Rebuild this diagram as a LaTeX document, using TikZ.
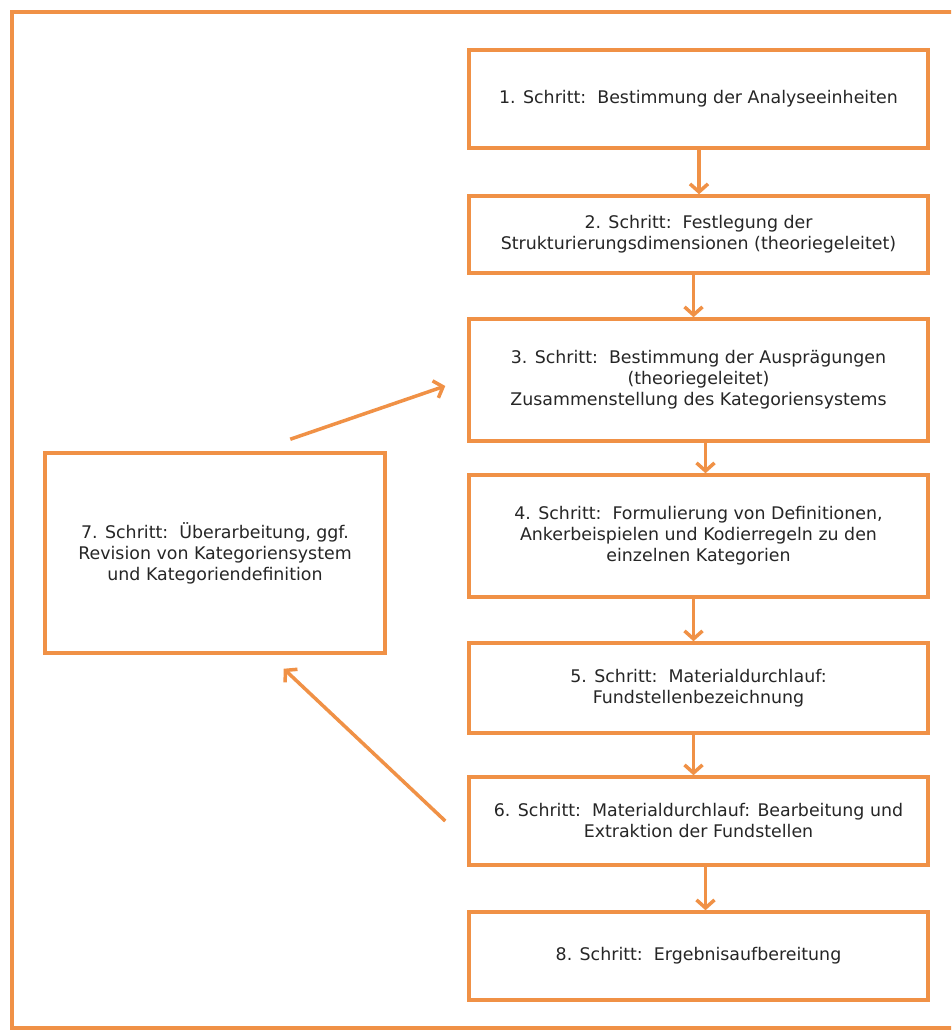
\documentclass[tikz,border=0pt]{standalone}
\usepackage{fontspec}
\setmainfont{DejaVu Sans}
\usetikzlibrary{arrows.meta,calc}
\definecolor{orng}{RGB}{240,145,70}
\begin{document}
\begin{tikzpicture}[x=1pt,y=-1pt,
  box/.style={draw=orng,line width=3.5pt,fill=white,rectangle,inner sep=0pt,
    align=center,font=\fontsize{17.4}{21}\selectfont,text=black!85},
  arr/.style={draw=orng,line width=3.5pt,-{Straight Barb[length=8pt,width=18pt]}}]
\useasboundingbox (0,0) rectangle (951,1030);
\clip (0,0) rectangle (951,1030);
\fill[white] (0,0) rectangle (951,1030);
\draw[orng,line width=3.5pt] (12,1028) rectangle (965,12);

\node[box,minimum width=459pt,minimum height=98pt] (b1) at (698.5,99) {1. Schritt:\ \ Bestimmung der Analyseeinheiten};
\node[box,minimum width=459pt,minimum height=77pt] (b2) at (698.5,234.5) {2. Schritt:\ \ Festlegung der\\Strukturierungsdimensionen (theoriegeleitet)};
\node[box,minimum width=459pt,minimum height=122pt] (b3) at (698.5,380) {3. Schritt:\ \ Bestimmung der Ausprägungen\\(theoriegeleitet)\\Zusammenstellung des Kategoriensystems};
\node[box,minimum width=459pt,minimum height=122pt] (b4) at (698.5,536) {4. Schritt:\ \ Formulierung von Definitionen,\\Ankerbeispielen und Kodierregeln zu den\\einzelnen Kategorien};
\node[box,minimum width=459pt,minimum height=90pt] (b5) at (698.5,688) {5. Schritt:\ \ Materialdurchlauf:\\Fundstellenbezeichnung};
\node[box,minimum width=459pt,minimum height=88pt] (b6) at (698.5,821) {6. Schritt:\ \ Materialdurchlauf: Bearbeitung und\\Extraktion der Fundstellen};
\node[box,minimum width=459pt,minimum height=88pt] (b8) at (698.5,956) {8. Schritt:\ \ Ergebnisaufbereitung};
\node[box,minimum width=340pt,minimum height=200pt] (b7) at (215,553) {7. Schritt:\ \ Überarbeitung, ggf.\\Revision von Kategoriensystem\\und Kategoriendefinition};

\draw[arr] ([xshift=0.5pt]b1.south) -- ([xshift=0.5pt]b2.north);
\draw[arr] ([xshift=-5pt]b2.south) -- ([xshift=-5pt]b3.north);
\draw[arr] ([xshift=7pt]b3.south) -- ([xshift=7pt]b4.north);
\draw[arr] ([xshift=-5pt]b4.south) -- ([xshift=-5pt]b5.north);
\draw[arr] ([xshift=-5pt]b5.south) -- ([xshift=-5pt]b6.north);
\draw[arr] ([xshift=7pt]b6.south) -- ([xshift=7pt]b8.north);

\coordinate (c1) at ($(b7.north west)+(247,-12)$);
\coordinate (c2) at ($(b3.west)+(-22,6)$);
\coordinate (c3) at ($(b6.west)+(-22,0)$);
\coordinate (c4) at ($(b7.south east)+(-103,14)$);
\draw[arr] (c1) -- (c2);
\draw[arr] (c3) -- (c4);
\end{tikzpicture}
\end{document}
